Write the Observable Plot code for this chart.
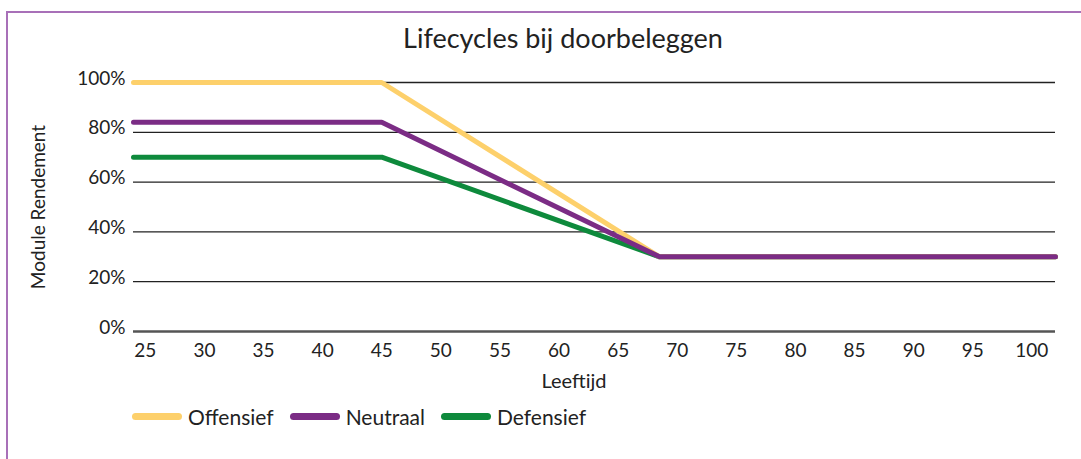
<!DOCTYPE html>
<html>
<head>
<meta charset="utf-8">
<script src="https://cdn.jsdelivr.net/npm/d3@7"></script>
<script src="https://cdn.jsdelivr.net/npm/@observablehq/plot@0.6"></script>
<style>
  html, body { margin: 0; padding: 0; background: #fff; }
  body { font-family: Lato, "Open Sans", sans-serif; }
  #wrap { position: relative; width: 1081px; height: 459px; overflow: hidden; }
  #frame { position: absolute; left: 6px; top: 11px; width: 1100px; height: 500px;
           border-left: 2px solid #a870b8; border-top: 2px solid #a870b8; box-sizing: border-box; }
  #title { position: absolute; left: 0; width: 1126px; top: 21px; text-align: center;
           font-size: 27px; color: #222; }
  #chart { position: absolute; left: 0; top: 0; }
  #xlabel { position: absolute; left: 0; width: 1148px; top: 368px; text-align: center;
            font-size: 20px; color: #222; }
  #legend { position: absolute; left: 132px; top: 404px; display: flex; align-items: center;
            font-size: 21px; color: #222; }
  .sw { display: inline-block; width: 50px; height: 7px; border-radius: 4px; margin-right: 6px; }
  .item { display: flex; align-items: center; margin-right: 16px; }
</style>
</head>
<body>
<div id="wrap">
  <div id="frame"></div>
  <div id="title">Lifecycles bij doorbeleggen</div>
  <div id="chart"></div>
  <div id="xlabel">Leeftijd</div>
  <div id="legend"></div>
</div>
<script>
// Data
const ages = [24, 45, 68.5, 102];
const offensief = [100, 100, 30, 30];
const neutraal = [84, 84, 30, 30];
const defensief = [70, 70, 30, 30];
const seriesNames = ["Offensief", "Neutraal", "Defensief"];
const seriesColors = ["#fdd06b", "#7b2c85", "#0e8a3c"];
const xTicks = [25, 30, 35, 40, 45, 50, 55, 60, 65, 70, 75, 80, 85, 90, 95, 100];
const yTicks = [0, 20, 40, 60, 80, 100];

const rows = [];
const seriesValues = [offensief, neutraal, defensief];
seriesNames.forEach((name, i) => {
  ages.forEach((a, j) => rows.push({series: name, age: a, value: seriesValues[i][j]}));
});
const drawOrder = ["Defensief", "Offensief", "Neutraal"];
const colorOf = Object.fromEntries(seriesNames.map((n, i) => [n, seriesColors[i]]));

const plot = Plot.plot({
  width: 1081,
  height: 400,
  marginLeft: 133,
  marginRight: 26,
  marginTop: 82,
  marginBottom: 69,
  style: {fontFamily: "Lato, 'Open Sans', sans-serif", fontSize: "19px", color: "#222", background: "transparent"},
  x: {domain: [24, 102]},
  y: {domain: [0, 100]},
  marks: [
    Plot.ruleY(yTicks.filter(d => d > 0), {stroke: "#222", strokeWidth: 1.3}),
    Plot.ruleY([0], {stroke: "#555", strokeWidth: 2.5}),
    Plot.axisX({ticks: xTicks, tickSize: 0, tickPadding: 12, tickFormat: d => String(d),
                label: null, fontSize: 19}),
    Plot.axisY({ticks: yTicks, tickSize: 0, tickPadding: 8, tickFormat: d => d + "%",
                label: "Module Rendement", labelAnchor: "center", labelArrow: "none", labelOffset: 102, fontSize: 19, dy: -4}),
    ...drawOrder.map(name => Plot.line(rows.filter(r => r.series === name),
      {x: "age", y: "value", stroke: colorOf[name], strokeWidth: 5, strokeLinejoin: "miter", strokeLinecap: "round"}))
  ]
});
document.getElementById("chart").appendChild(plot);

const legend = document.getElementById("legend");
seriesNames.forEach((name, i) => {
  const item = document.createElement("div");
  item.className = "item";
  const sw = document.createElement("span");
  sw.className = "sw";
  sw.style.background = seriesColors[i];
  const lab = document.createElement("span");
  lab.textContent = name;
  item.appendChild(sw);
  item.appendChild(lab);
  legend.appendChild(item);
});
</script>
</body>
</html>
